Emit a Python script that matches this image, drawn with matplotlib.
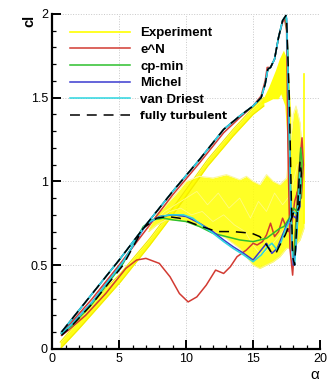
import numpy as np
import matplotlib.pyplot as plt

plt.rcParams['font.family'] = ['Liberation Sans', 'DejaVu Sans']

# ---- data (alpha in deg, cl) ----
# common upstroke of the computed curves
up_a = [0.7, 1.5, 3, 5, 7, 9, 11, 12.8, 14, 15, 15.6, 15.9, 16.1, 16.3, 16.6, 16.9, 17.2, 17.45]
up_cl = [0.10, 0.18, 0.33, 0.53, 0.74, 0.94, 1.13, 1.31, 1.39, 1.45, 1.50, 1.58, 1.67, 1.68, 1.73, 1.86, 1.96, 1.99]

# e^N (red)
en_a = [0.7, 3, 5, 7, 9, 11, 12.8, 14, 15, 15.6, 15.9, 16.05, 16.3, 16.6, 16.9, 17.2, 17.35,
        17.5, 17.6, 17.75, 17.95, 18.15, 18.4, 18.65, 18.75, 18.6, 18.35, 18.1, 17.9, 17.6, 17.2,
        16.9, 16.6, 16.3, 16.0, 15.7, 15.3, 15.0, 14.5, 13.8, 13.3, 12.8, 12.5, 12.2, 11.5, 10.8,
        10.15, 9.5, 8.8, 8.0, 7.0, 6.3, 5.5, 4.0, 2.5, 1.2, 0.7]
en_cl = [0.09, 0.30, 0.50, 0.71, 0.92, 1.11, 1.29, 1.38, 1.45, 1.51, 1.60, 1.68, 1.68, 1.73, 1.86, 1.95, 1.97,
         1.90, 1.20, 0.60, 0.44, 0.70, 1.05, 1.26, 1.10, 0.90, 0.95, 0.88, 0.75, 0.70, 0.78,
         0.70, 0.67, 0.75, 0.68, 0.64, 0.62, 0.63, 0.59, 0.55, 0.49, 0.45, 0.46, 0.47, 0.38, 0.31,
         0.28, 0.33, 0.43, 0.51, 0.54, 0.53, 0.48, 0.33, 0.20, 0.11, 0.08]

# cp-min (green), downstroke after the peak
cp_a = [17.6, 17.75, 17.9, 18.05, 18.3, 18.55, 18.65, 18.55, 18.3, 18.0, 17.7, 17.3, 17.0, 16.5,
        16.0, 15.5, 15.0, 14.0, 13.0, 12.0, 11.0, 10.0, 9.0, 8.3, 7.5, 6.8, 5.3, 3, 1.5, 0.7]
cp_cl = [1.75, 1.10, 0.60, 0.55, 0.85, 1.20, 1.12, 0.90, 0.82, 0.84, 0.78, 0.73, 0.72, 0.69,
         0.66, 0.65, 0.64, 0.65, 0.67, 0.69, 0.73, 0.76, 0.77, 0.78, 0.77, 0.73, 0.51, 0.27, 0.14, 0.09]

# Michel (blue)
mi_a = [17.5, 17.7, 17.85, 18.0, 18.2, 18.45, 18.5, 18.2, 17.9, 17.5, 17.1, 16.8, 16.4, 16.0, 15.5,
        15.0, 14.3, 13.5, 12.8, 12.0, 11.0, 10.0, 9.0, 8.0, 7.0, 5.3, 3, 1.5, 0.7]
mi_cl = [1.97, 1.30, 0.70, 0.50, 0.60, 0.95, 0.85, 0.78, 0.80, 0.74, 0.66, 0.60, 0.57, 0.63, 0.58,
         0.53, 0.57, 0.61, 0.65, 0.70, 0.75, 0.79, 0.80, 0.79, 0.74, 0.52, 0.28, 0.15, 0.09]

# van Driest (cyan)
vd_a = [17.5, 17.65, 17.8, 17.95, 18.1, 18.3, 18.5, 18.55, 18.3, 18.0, 17.7, 17.4, 17.1, 16.8, 16.4,
        16.1, 15.6, 15.0, 14.3, 13.5, 12.8, 12.0, 11.3, 10.5, 9.8, 8.8, 8.1, 7.3, 6.8, 5.3, 3, 1.5, 0.7]
vd_cl = [1.97, 1.50, 0.90, 0.55, 0.50, 0.75, 1.05, 0.95, 0.80, 0.82, 0.76, 0.71, 0.64, 0.59, 0.63,
         0.61, 0.56, 0.52, 0.56, 0.60, 0.64, 0.69, 0.73, 0.78, 0.80, 0.80, 0.79, 0.76, 0.72, 0.52, 0.28, 0.15, 0.09]

# fully turbulent (black dashed)
ft_a = [17.5, 17.7, 17.85, 17.95, 18.1, 18.3, 18.5, 18.6, 18.45, 18.2, 18.0, 17.7, 17.4, 17.0, 16.7,
        16.4, 16.0, 15.5, 14.9, 13.5, 12.3, 10.8, 9.5, 8.6, 7.8, 6.8, 5.3, 3, 1.5, 0.7]
ft_cl = [1.97, 1.50, 0.90, 0.55, 0.50, 0.80, 1.12, 1.05, 0.85, 0.80, 0.81, 0.74, 0.68, 0.62, 0.57,
         0.57, 0.62, 0.67, 0.69, 0.70, 0.70, 0.74, 0.78, 0.79, 0.78, 0.72, 0.50, 0.27, 0.14, 0.08]

# Experiment (yellow band of many cycles)
ex_up_a = [0.6, 2, 4, 5.1, 7.3, 9, 11.6, 13.5, 15, 15.8]
ex_up_lo = [0.00, 0.12, 0.30, 0.40, 0.62, 0.80, 1.09, 1.27, 1.40, 1.45]
ex_up_hi = [0.04, 0.17, 0.36, 0.45, 0.66, 0.84, 1.13, 1.31, 1.44, 1.50]

ex_st_a = [15.6, 16.2, 16.7, 17.0, 17.3, 17.6, 17.85, 17.9, 17.7, 17.4, 17.1, 16.9, 16.5, 16.0]
ex_st_cl = [1.46, 1.56, 1.66, 1.73, 1.78, 1.72, 1.40, 1.05, 1.10, 1.45, 1.52, 1.49, 1.49, 1.47]

ex_dn_a = [18.8, 18.5, 18.2, 18.0, 17.5, 17.0, 16.5, 16.0, 15.5, 15.0, 14.5, 14.0, 13.0, 12.0,
           11.0, 10.0, 9.3, 8.5, 7.8, 7.2]
ex_dn_hi = [1.05, 1.35, 1.45, 1.40, 1.02, 0.98, 1.00, 1.04, 0.98, 1.00, 1.03, 1.01, 1.04, 1.02,
            1.03, 1.00, 0.93, 0.86, 0.80, 0.72]
ex_dn_lo = [0.72, 0.65, 0.62, 0.60, 0.60, 0.55, 0.52, 0.50, 0.48, 0.50, 0.55, 0.60, 0.66, 0.70,
            0.73, 0.76, 0.77, 0.77, 0.74, 0.70]

ex_l1_a = [18.3, 17.8, 17.2, 16.6, 16.0, 15.4, 14.8, 14.0, 13.2, 12.4, 11.6, 10.8, 10.0, 9.2, 8.4, 7.6]
ex_l1_cl = [1.10, 0.92, 0.86, 0.93, 0.82, 0.88, 0.78, 0.90, 0.84, 0.93, 0.86, 0.94, 0.90, 0.86, 0.82, 0.76]
ex_l2_a = [18.0, 17.4, 16.8, 16.2, 15.6, 15.0, 14.4, 13.6, 12.8, 12.0, 11.2, 10.4, 9.6, 8.8, 8.0]
ex_l2_cl = [0.80, 0.72, 0.66, 0.60, 0.56, 0.62, 0.70, 0.74, 0.80, 0.76, 0.82, 0.80, 0.84, 0.82, 0.78]
ex_sp_a = [18.8, 18.8]
ex_sp_cl = [0.75, 1.64]

YEL = '#ffff00'

fig, ax = plt.subplots(figsize=(3.3, 3.85), dpi=100)
fig.subplots_adjust(left=0.158, right=0.970, bottom=0.094, top=0.964)

# experiment
ax.fill_between(ex_up_a, ex_up_lo, ex_up_hi, color=YEL, alpha=0.9, lw=0)
ax.plot(ex_up_a, ex_up_lo, color='#f2ea00', lw=0.8)
ax.plot(ex_up_a, ex_up_hi, color='#f2ea00', lw=0.8)
ax.fill(ex_st_a, ex_st_cl, color=YEL, alpha=0.95, lw=0)
ax.fill_between(ex_dn_a, ex_dn_lo, ex_dn_hi, color=YEL, alpha=0.85, lw=0)
ax.plot(ex_dn_a, ex_dn_hi, color='#fbf7a0', lw=0.8)
ax.plot(ex_dn_a, ex_dn_lo, color='#fbf590', lw=0.8)
ax.plot(ex_l1_a, ex_l1_cl, color='#fffb80', lw=0.6)
ax.plot(ex_l2_a, ex_l2_cl, color='#fffb80', lw=0.6)
ax.plot(ex_sp_a, ex_sp_cl, color=YEL, lw=1.2)
ax.plot([], [], color=YEL, lw=1.2, label='Experiment')

lw = 1.1
ax.plot(en_a, en_cl, color='#d23a32', lw=lw, label='e^N')
ax.plot(up_a + cp_a, up_cl + cp_cl, color='#2ec02e', lw=lw, label='cp-min')
ax.plot(up_a + mi_a, up_cl + mi_cl, color='#3a3ad0', lw=lw, label='Michel')
ax.plot(up_a + vd_a, up_cl + vd_cl, color='#2cd6e0', lw=lw, label='van Driest')
ax.plot(up_a + ft_a, up_cl + ft_cl, color='black', lw=lw, dashes=(6.5, 4.5),
        label='fully turbulent')

ax.set_xlim(0, 20)
ax.set_ylim(0, 2)
ax.set_xticks([0, 5, 10, 15, 20])
ax.set_yticks([0, 0.5, 1, 1.5, 2])
ax.set_yticklabels(['0', '0.5', '1', '1.5', '2'])
ax.set_xticks(np.arange(0, 21, 1), minor=True)
ax.set_yticks(np.arange(0, 2.01, 0.1), minor=True)
ax.tick_params(which='major', direction='in', length=6.5, width=1.4, labelsize=9, pad=3)
ax.tick_params(which='minor', direction='in', length=3, width=0.9)
ax.grid(True, which='major', color='#c8c8c8', ls=':', lw=0.7)
ax.set_axisbelow(True)
for s in ['top', 'right']:
    ax.spines[s].set_visible(False)
for s in ['left', 'bottom']:
    ax.spines[s].set_linewidth(1.6)

fig.text(0.09, 0.945, 'cl', rotation=90, fontsize=10.5, fontweight='bold', ha='center', va='center')
fig.text(0.955, 0.027, 'α', fontsize=11, ha='center', va='center')

leg = ax.legend(loc='upper left', bbox_to_anchor=(0.067, 0.96), frameon=False,
                fontsize=9.5, handlelength=4.55, handletextpad=0.76, labelspacing=0.33,
                borderpad=0, borderaxespad=0)
for t in leg.get_texts():
    t.set_fontweight('bold')
leg.get_texts()[-1].set_fontfamily('DejaVu Sans')
leg.get_texts()[-1].set_fontsize(7.7)

fig.savefig('out.png', dpi=100)
